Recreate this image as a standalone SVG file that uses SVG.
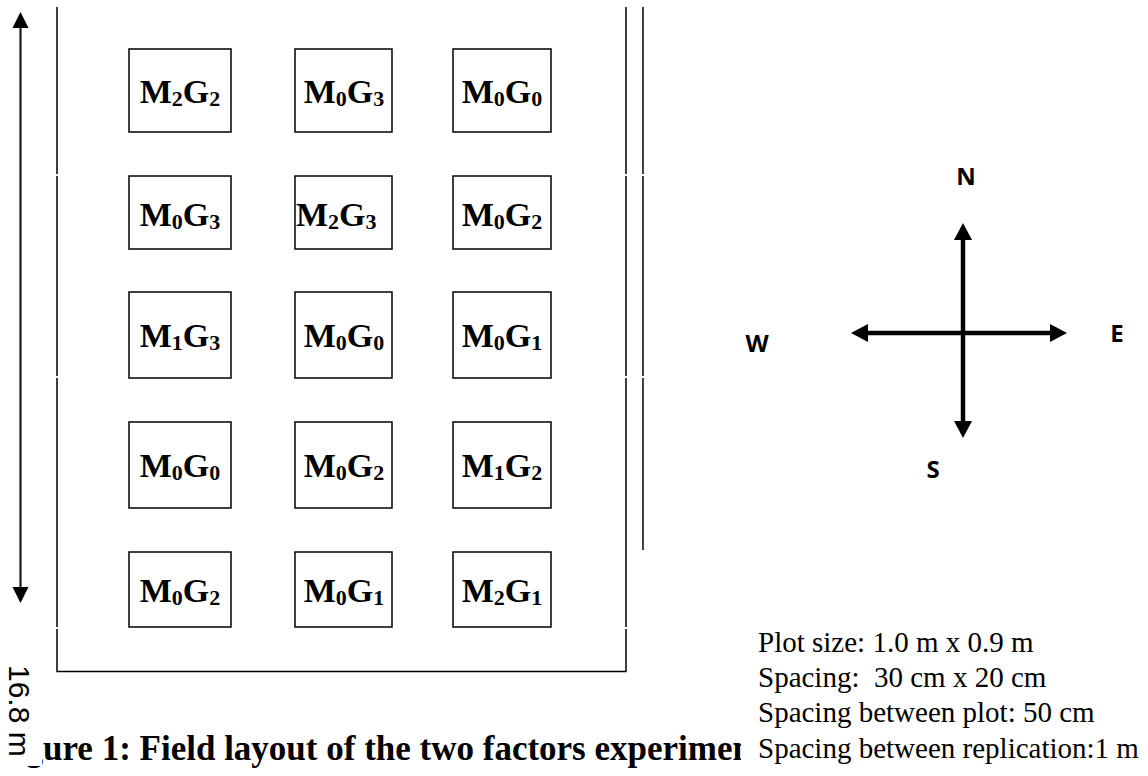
<svg xmlns="http://www.w3.org/2000/svg" width="1148" height="776" viewBox="0 0 1148 776">
  <style>
    .frame { stroke: #000; stroke-width: 1.5; fill: none; }
    .plot rect { fill: #fff; stroke: #000; stroke-width: 1.5; }
    .plot text { font-family: "Liberation Serif", "Times New Roman", serif; font-weight: bold; font-size: 34px; fill: #000; text-anchor: middle; }
    .plot tspan.sub { font-size: 22px; }
    .compass-label { font-family: "Open Sans", "Noto Sans", sans-serif; font-weight: bold; font-size: 24px; fill: #000; text-anchor: middle; }
    .note { font-family: "Liberation Serif", "Times New Roman", serif; font-size: 29px; fill: #000; white-space: pre; }
    .caption { font-family: "Liberation Serif", "Times New Roman", serif; font-weight: bold; font-size: 35px; fill: #000; }
    .dim-label { font-family: "Liberation Sans", Arial, sans-serif; font-size: 30px; fill: #000; }
  </style>
  <defs>
    <marker id="head-compass" markerUnits="userSpaceOnUse" markerWidth="18" markerHeight="20" viewBox="0 -10 18 20" refX="0" refY="0" orient="auto-start-reverse">
      <path d="M0,-9 L17,0 L0,9 z" fill="#000"/>
    </marker>
    <marker id="head-dim" markerUnits="userSpaceOnUse" markerWidth="17" markerHeight="18" viewBox="0 -9 17 18" refX="0" refY="0" orient="auto-start-reverse">
      <path d="M0,-8 L16,0 L0,8 z" fill="#000"/>
    </marker>
    <clipPath id="caption-clip">
      <rect x="42" y="0" width="699" height="776"/>
      <rect x="0" y="766" width="42" height="10"/>
    </clipPath>
  </defs>

  <!-- field boundary lines, with the small joins between replications -->
  <g id="field-frame" class="frame">
    <path d="M57,7 V174 M57,176 V376 M57,378 V627 M57,629 V671.5 H626 V629 M626,627 V378 M626,376 V176 M626,174 V7"/>
    <path d="M643,7 V174 M643,176 V376 M643,378 V550"/>
  </g>

  <!-- plots: 3 columns x 5 rows -->
  <g id="plot-r1c1" class="plot"><rect x="129" y="49" width="102" height="83"/><text x="180" y="103">M<tspan class="sub" dy="3">2</tspan><tspan dy="-3">G</tspan><tspan class="sub" dy="3">2</tspan></text></g>
  <g id="plot-r1c2" class="plot"><rect x="295" y="49" width="97" height="83"/><text x="344" y="103">M<tspan class="sub" dy="3">0</tspan><tspan dy="-3">G</tspan><tspan class="sub" dy="3">3</tspan></text></g>
  <g id="plot-r1c3" class="plot"><rect x="453" y="49" width="98" height="83"/><text x="502" y="103">M<tspan class="sub" dy="3">0</tspan><tspan dy="-3">G</tspan><tspan class="sub" dy="3">0</tspan></text></g>

  <g id="plot-r2c1" class="plot"><rect x="129" y="176" width="102" height="73"/><text x="180" y="226">M<tspan class="sub" dy="3">0</tspan><tspan dy="-3">G</tspan><tspan class="sub" dy="3">3</tspan></text></g>
  <g id="plot-r2c2" class="plot"><rect x="295" y="176" width="97" height="73"/><text x="296" y="226" style="text-anchor:start">M<tspan class="sub" dy="3">2</tspan><tspan dy="-3">G</tspan><tspan class="sub" dy="3">3</tspan></text></g>
  <g id="plot-r2c3" class="plot"><rect x="453" y="176" width="98" height="73"/><text x="502" y="226">M<tspan class="sub" dy="3">0</tspan><tspan dy="-3">G</tspan><tspan class="sub" dy="3">2</tspan></text></g>

  <g id="plot-r3c1" class="plot"><rect x="129" y="292" width="102" height="86"/><text x="180" y="347">M<tspan class="sub" dy="3">1</tspan><tspan dy="-3">G</tspan><tspan class="sub" dy="3">3</tspan></text></g>
  <g id="plot-r3c2" class="plot"><rect x="295" y="292" width="97" height="86"/><text x="344" y="347">M<tspan class="sub" dy="3">0</tspan><tspan dy="-3">G</tspan><tspan class="sub" dy="3">0</tspan></text></g>
  <g id="plot-r3c3" class="plot"><rect x="453" y="292" width="98" height="86"/><text x="502" y="347">M<tspan class="sub" dy="3">0</tspan><tspan dy="-3">G</tspan><tspan class="sub" dy="3">1</tspan></text></g>

  <g id="plot-r4c1" class="plot"><rect x="129" y="422" width="102" height="86"/><text x="180" y="477">M<tspan class="sub" dy="3">0</tspan><tspan dy="-3">G</tspan><tspan class="sub" dy="3">0</tspan></text></g>
  <g id="plot-r4c2" class="plot"><rect x="295" y="422" width="97" height="86"/><text x="344" y="477">M<tspan class="sub" dy="3">0</tspan><tspan dy="-3">G</tspan><tspan class="sub" dy="3">2</tspan></text></g>
  <g id="plot-r4c3" class="plot"><rect x="453" y="422" width="98" height="86"/><text x="502" y="477">M<tspan class="sub" dy="3">1</tspan><tspan dy="-3">G</tspan><tspan class="sub" dy="3">2</tspan></text></g>

  <g id="plot-r5c1" class="plot"><rect x="129" y="552" width="102" height="75"/><text x="180" y="602">M<tspan class="sub" dy="3">0</tspan><tspan dy="-3">G</tspan><tspan class="sub" dy="3">2</tspan></text></g>
  <g id="plot-r5c2" class="plot"><rect x="295" y="552" width="97" height="75"/><text x="344" y="602">M<tspan class="sub" dy="3">0</tspan><tspan dy="-3">G</tspan><tspan class="sub" dy="3">1</tspan></text></g>
  <g id="plot-r5c3" class="plot"><rect x="453" y="552" width="98" height="75"/><text x="502" y="602">M<tspan class="sub" dy="3">2</tspan><tspan dy="-3">G</tspan><tspan class="sub" dy="3">1</tspan></text></g>

  <!-- arrows: field length and compass -->
  <g id="connectors">
    <line x1="20.5" y1="28" x2="20.5" y2="587" stroke="#1a1a1a" stroke-width="2.2" marker-start="url(#head-dim)" marker-end="url(#head-dim)"/>
    <line x1="963" y1="240" x2="963" y2="421" stroke="#000" stroke-width="4.5" marker-start="url(#head-compass)" marker-end="url(#head-compass)"/>
    <line x1="868" y1="333" x2="1050" y2="333" stroke="#000" stroke-width="4.5" marker-start="url(#head-compass)" marker-end="url(#head-compass)"/>
  </g>

  <g id="dimension-label">
    <text class="dim-label" transform="translate(9,665) rotate(90)">16.8 m</text>
  </g>

  <g id="compass-labels">
    <text class="compass-label" x="966" y="185">N</text>
    <text class="compass-label" x="757" y="352">W</text>
    <text class="compass-label" x="1117" y="342">E</text>
    <text class="compass-label" x="933" y="478">S</text>
  </g>

  <g id="notes">
    <text class="note" x="758" y="652">Plot size: 1.0 m x 0.9 m</text>
    <text class="note" x="758" y="687">Spacing:  30 cm x 20 cm</text>
    <text class="note" x="758" y="722">Spacing between plot: 50 cm</text>
    <text class="note" x="758" y="758">Spacing between replication:1 m</text>
  </g>

  <g id="caption" clip-path="url(#caption-clip)">
    <text class="caption" x="25.5" y="760">gure 1: Field layout of the two factors experimen</text>
  </g>
</svg>
